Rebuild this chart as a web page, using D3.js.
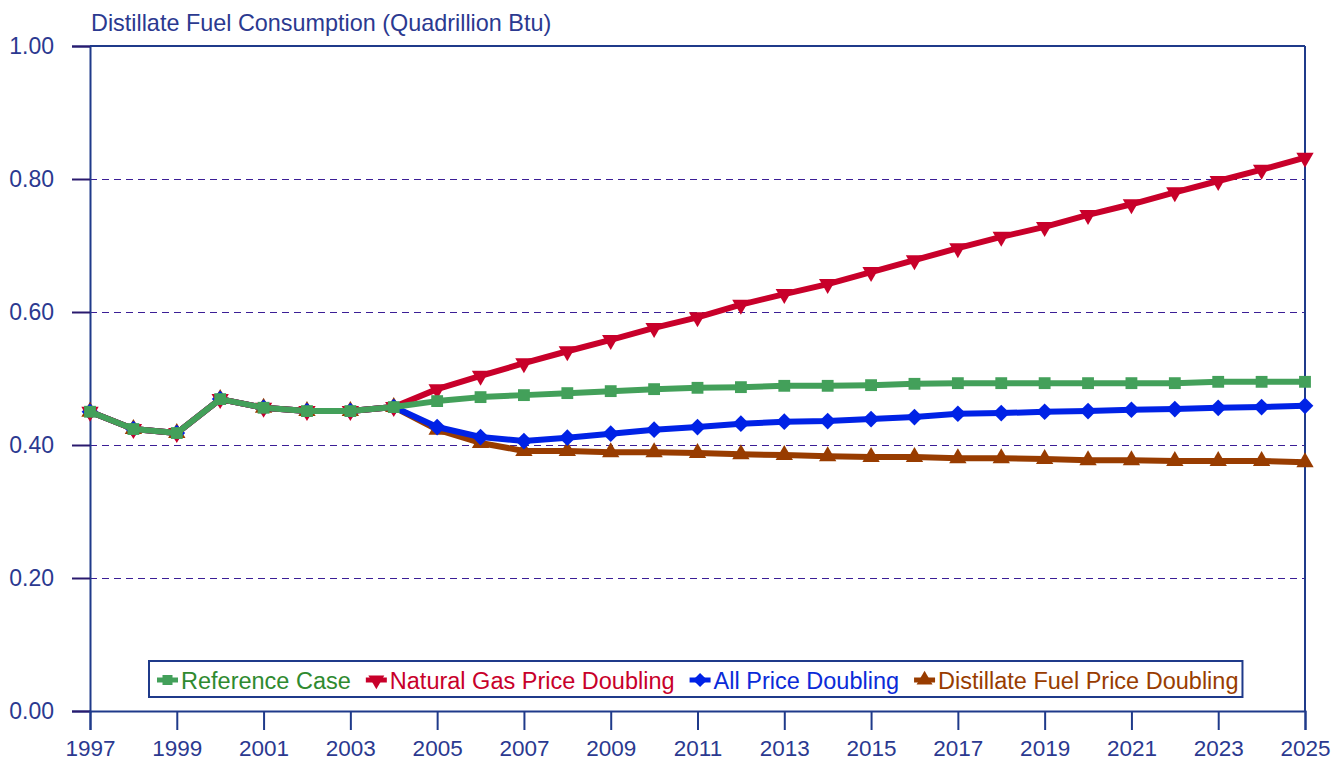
<!DOCTYPE html>
<html>
<head>
<meta charset="utf-8">
<script src="https://cdn.jsdelivr.net/npm/d3@7"></script>
<style>
  body { margin: 0; background: #fff; }
  svg { font-family: "Liberation Sans", Arial, sans-serif; }
</style>
</head>
<body>
<div id="chart"></div>
<script>
"use strict"

// Data
const years = d3.range(1997, 2026)
const history = [0.450, 0.424, 0.418, 0.469, 0.456, 0.451, 0.451, 0.457]

const referenceCase = history.concat([0.466, 0.472, 0.475, 0.478, 0.481, 0.484, 0.486, 0.487, 0.489, 0.489,
    0.490, 0.492, 0.493, 0.493, 0.493, 0.493, 0.493, 0.493, 0.495, 0.495, 0.495])
const gasDoubling = history.concat([0.484, 0.504, 0.523, 0.541, 0.558, 0.576, 0.592, 0.611, 0.627, 0.642,
    0.660, 0.678, 0.696, 0.713, 0.728, 0.746, 0.762, 0.780, 0.797, 0.814, 0.832])
const allDoubling = history.concat([0.427, 0.412, 0.406, 0.411, 0.417, 0.423, 0.427, 0.432, 0.435, 0.436,
    0.439, 0.442, 0.447, 0.448, 0.450, 0.451, 0.453, 0.454, 0.456, 0.457, 0.459])
const distDoubling = history.concat([0.423, 0.403, 0.391, 0.391, 0.389, 0.389, 0.388, 0.386, 0.385, 0.383,
    0.382, 0.382, 0.380, 0.380, 0.379, 0.377, 0.377, 0.376, 0.376, 0.376, 0.374])

const yTicks = [0, 0.2, 0.4, 0.6, 0.8, 1.0]
const xTicks = d3.range(1997, 2026, 2)

// series in draw order (last on top)
const series = [
    { name: "Distillate Fuel Price Doubling", values: distDoubling, color: "#983C00", text: "#983C00", symbol: d3.symbolTriangle, rot: 0 },
    { name: "All Price Doubling", values: allDoubling, color: "#0022E6", text: "#0A2BD8", symbol: d3.symbolSquare, rot: 45 },
    { name: "Natural Gas Price Doubling", values: gasDoubling, color: "#C8002A", text: "#C8002A", symbol: d3.symbolTriangle, rot: 180 },
    { name: "Reference Case", values: referenceCase, color: "#43A05A", text: "#2F8A2F", symbol: d3.symbolSquare, rot: 0 }
]
const legendOrder = ["Reference Case", "Natural Gas Price Doubling", "All Price Doubling", "Distillate Fuel Price Doubling"]

const W = 1341, H = 762
const M = { left: 90, right: 36, top: 46, bottom: 51 }
const AXIS = "#1F3A8A"
const FONT = "Liberation Sans, Arial, sans-serif"

const svg = d3.select("#chart").append("svg").attr("width", W).attr("height", H)

const x = d3.scaleLinear().domain([1997, 2025]).range([M.left, W - M.right])
const y = d3.scaleLinear().domain([0, 1]).range([H - M.bottom, M.top])

// dashed gridlines
svg.append("g").selectAll("line").data(yTicks.filter(d => d > 0 && d < 1)).join("line")
    .attr("x1", M.left).attr("x2", W - M.right)
    .attr("y1", d => y(d) + 0.5).attr("y2", d => y(d) + 0.5)
    .attr("stroke", "#3B1E96").attr("stroke-width", 1).attr("stroke-dasharray", "7,5")

// frame: top and right
svg.append("line").attr("x1", M.left).attr("x2", W - M.right).attr("y1", y(1)).attr("y2", y(1))
    .attr("stroke", AXIS).attr("stroke-width", 2)
svg.append("line").attr("x1", x(2025)).attr("x2", x(2025)).attr("y1", y(1)).attr("y2", y(0))
    .attr("stroke", AXIS).attr("stroke-width", 2)

// y axis
const yAxis = svg.append("g").attr("transform", "translate(" + M.left + ",0)")
    .call(d3.axisLeft(y).tickValues(yTicks).tickFormat(d3.format(".2f")).tickSize(18).tickPadding(18))
yAxis.select(".domain").attr("stroke", AXIS).attr("stroke-width", 2)
yAxis.selectAll(".tick line").attr("stroke", "#2A1A6E").attr("stroke-width", 2)
yAxis.selectAll(".tick text").attr("fill", "#2B3990").attr("font-size", 23).attr("font-family", FONT)

// x axis
const xAxis = svg.append("g").attr("transform", "translate(0," + y(0) + ")")
    .call(d3.axisBottom(x).tickValues(xTicks).tickFormat(d3.format("d")).tickSize(19).tickPadding(10))
xAxis.select(".domain").attr("stroke", AXIS).attr("stroke-width", 2)
xAxis.selectAll(".tick line").attr("stroke", AXIS).attr("stroke-width", 2)
xAxis.selectAll(".tick text").attr("fill", "#2B3990").attr("font-size", 22.5).attr("font-family", FONT)

// title
svg.append("text").attr("x", M.left + 1).attr("y", 31)
    .attr("fill", "#2B3990").attr("font-size", 23.4)
    .text("Distillate Fuel Consumption (Quadrillion Btu)")

// lines and markers
const lineGen = d3.line().x((d, i) => x(years[i])).y(d => y(d))

function symbolPath(s, size) {
    return d3.symbol().type(s.symbol).size(size)()
}

series.forEach(s => {
    const g = svg.append("g")
    g.append("path").attr("d", lineGen(s.values))
        .attr("fill", "none").attr("stroke", s.color).attr("stroke-width", 6).attr("stroke-linejoin", "round")
    g.selectAll("path.mk").data(s.values).join("path").attr("class", "mk")
        .attr("d", symbolPath(s, s.symbol === d3.symbolTriangle ? 130 : 140))
        .attr("transform", (d, i) => "translate(" + x(years[i]) + "," + y(d) + ") rotate(" + s.rot + ")")
        .attr("fill", s.color)
})

// legend
const legend = svg.append("g")
const lx0 = 149, ly = 680
let cx = lx0 + 8
legendOrder.forEach(name => {
    const s = series.find(d => d.name === name)
    const item = legend.append("g")
    item.append("line").attr("x1", cx).attr("x2", cx + 21).attr("y1", ly).attr("y2", ly)
        .attr("stroke", s.color).attr("stroke-width", 5)
    item.append("path").attr("d", symbolPath(s, s.symbol === d3.symbolTriangle ? 110 : 100))
        .attr("transform", "translate(" + (cx + 10.5) + "," + ly + ") rotate(" + s.rot + ")")
        .attr("fill", s.color)
    const t = item.append("text").attr("x", cx + 24).attr("y", ly + 8.5)
        .attr("fill", s.text).attr("font-size", 23.5).text(name)
    cx += 24 + t.node().getComputedTextLength() + 15
})
legend.insert("rect", ":first-child")
    .attr("x", lx0).attr("y", 661).attr("width", cx - lx0 - 11).attr("height", 36)
    .attr("fill", "#fff").attr("stroke", AXIS).attr("stroke-width", 2)
</script>
</body>
</html>
